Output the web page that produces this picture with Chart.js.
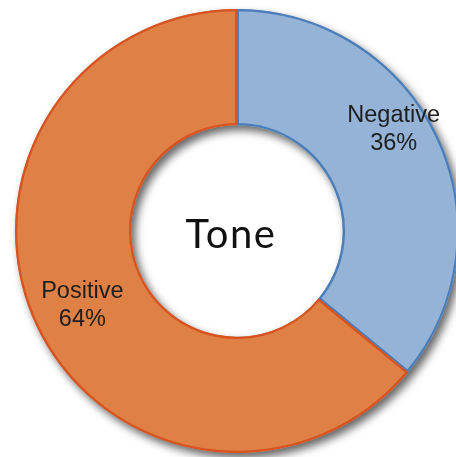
<!DOCTYPE html>
<html>
<head>
<meta charset="utf-8">
<script src="https://cdn.jsdelivr.net/npm/chart.js@4/dist/chart.umd.min.js"></script>
<style>
  html, body { margin: 0; padding: 0; background: #ffffff; overflow: hidden; }
  #wrap { position: absolute; left: 0; top: 0; width: 474px; height: 462px; }
</style>
</head>
<body>
<div id="wrap"><canvas id="c"></canvas></div>
<script>
const categories = ["Negative", "Positive"];
const values = [36, 64];
const percentLabels = ["36%", "64%"];
const centerTitle = "Tone";

const fillColors = ["#94B3D6", "#DF8145"];
const borderColors = ["#4A7EBB", "#D8531F"];
// label nudges (dx, dy in px) relative to arc mid-angle position
const labelNudge = [[2, -30], [0, 0]];

const ringShadow = {
  id: 'ringShadow',
  beforeDatasetsDraw(chart) {
    const meta = chart.getDatasetMeta(0);
    if (!meta.data.length) return;
    const a = meta.data[0];
    const {x, y, outerRadius, innerRadius} = a.getProps(['x','y','outerRadius','innerRadius'], true);
    const ctx = chart.ctx;
    ctx.save();
    ctx.shadowColor = 'rgba(0,0,0,0.6)';
    ctx.shadowBlur = 8;
    ctx.shadowOffsetX = 4;
    ctx.shadowOffsetY = 5;
    ctx.beginPath();
    ctx.arc(x, y, outerRadius, 0, Math.PI * 2);
    ctx.arc(x, y, innerRadius, 0, Math.PI * 2, true);
    ctx.closePath();
    ctx.fillStyle = '#bbbbbb';
    ctx.fill('evenodd');
    ctx.restore();
  }
};

const labelsPlugin = {
  id: 'sliceLabels',
  afterDatasetsDraw(chart) {
    const ctx = chart.ctx;
    const meta = chart.getDatasetMeta(0);
    ctx.save();
    ctx.textAlign = 'center';
    ctx.textBaseline = 'alphabetic';
    ctx.fillStyle = '#1e1e1e';
    ctx.font = '23.5px "Liberation Sans", Arial, sans-serif';
    meta.data.forEach((arc, i) => {
      const p = arc.getProps(['x','y','startAngle','endAngle','outerRadius'], true);
      const mid = (p.startAngle + p.endAngle) / 2;
      const r = p.outerRadius * 0.77;
      const cx = p.x + Math.cos(mid) * r + labelNudge[i][0];
      const cy = p.y + Math.sin(mid) * r + labelNudge[i][1];
      ctx.fillText(categories[i], cx, cy - 6);
      ctx.fillText(percentLabels[i], cx, cy + 22);
    });
    // centre title
    const a0 = meta.data[0];
    ctx.font = '400 40px "Lato", "Open Sans", sans-serif';
    try { ctx.letterSpacing = '1.5px'; } catch (e) {}
    ctx.fillStyle = '#111111';
    ctx.fillText(centerTitle, a0.x - 6, a0.y + 17);
    ctx.restore();
  }
};

new Chart(document.getElementById('c'), {
  type: 'doughnut',
  data: {
    labels: categories,
    datasets: [{
      data: values,
      backgroundColor: fillColors,
      borderColor: borderColors,
      borderWidth: 2,
      borderAlign: 'inner',
      hoverOffset: 0
    }]
  },
  options: {
    responsive: true,
    maintainAspectRatio: false,
    animation: false,
    radius: 222,
    cutout: 110,
    layout: { padding: 0 },
    plugins: {
      legend: { display: false },
      tooltip: { enabled: false },
      title: { display: false }
    }
  },
  plugins: [ringShadow, labelsPlugin]
});
</script>
</body>
</html>
